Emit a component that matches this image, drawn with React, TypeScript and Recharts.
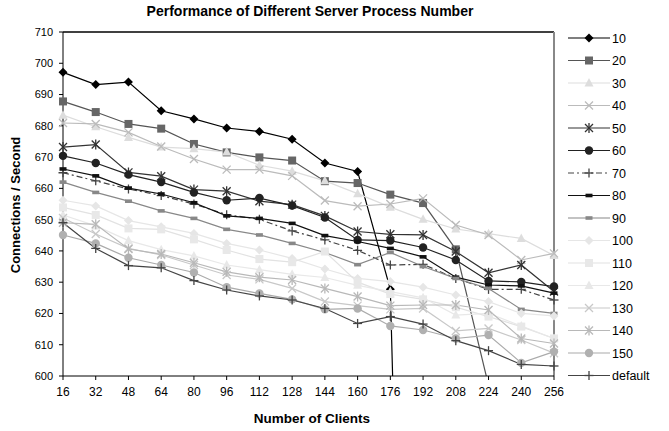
import React from "react";
import { LineChart, Line, XAxis, YAxis, ReferenceLine, Legend } from "recharts";

const clients = [16, 32, 48, 64, 80, 96, 112, 128, 144, 160, 176, 192, 208, 224, 240, 256];
const yTicks = [600, 610, 620, 630, 640, 650, 660, 670, 680, 690, 700, 710];

const s10 = [697.1, 693.2, 694.0, 684.8, 682.2, 679.3, 678.2, 675.7, 668.1, 665.4, 627.7, 230, null, null, null, null];
const s20 = [687.8, 684.4, 680.6, 679.1, 674.2, 671.5, 669.9, 668.9, 662.3, 661.7, 658.0, 655.3, 640.5, 597, null, null];
const s30 = [683.4, 679.7, 676.3, 673.2, 672.7, 671.6, 667.4, 665.5, 662.4, 658.3, 654.0, 650.1, 647.0, 645.5, 644.0, 638.5];
const s40 = [680.9, 680.6, 677.9, 673.4, 669.4, 666.0, 666.0, 664.0, 656.1, 654.3, 655.0, 656.8, 648.3, 645.1, 637.1, 639.2];
const s50 = [673.2, 674.0, 665.1, 663.9, 659.6, 659.1, 655.9, 654.8, 651.2, 646.2, 645.3, 645.1, 639.8, 633.0, 635.5, 627.0];
const s60 = [670.4, 668.1, 664.4, 662.0, 658.7, 656.2, 656.9, 654.5, 650.7, 643.5, 643.3, 641.1, 637.1, 630.4, 630.1, 628.6];
const s70 = [665.0, 662.4, 659.8, 657.7, 655.0, 651.6, 650.1, 646.4, 643.5, 640.2, 635.5, 635.7, 631.2, 627.7, 627.7, 624.3];
const s80 = [666.2, 664.0, 660.1, 658.2, 655.4, 651.2, 650.4, 648.8, 644.9, 643.0, 640.8, 638.1, 631.6, 629.1, 628.8, 626.5];
const s90 = [662.0, 658.7, 655.9, 652.8, 650.4, 646.9, 645.1, 642.4, 639.5, 635.6, 639.5, 635.0, 631.2, 628.0, 621.3, 620.0];
const s100 = [656.2, 654.4, 649.7, 647.7, 645.6, 642.4, 640.3, 637.6, 634.2, 631.2, 630.2, 628.4, 625.9, 623.8, 620.0, 619.2];
const s110 = [653.9, 651.5, 647.2, 646.9, 643.7, 640.3, 637.4, 636.4, 639.8, 630.0, 626.2, 624.5, 622.0, 619.0, 615.8, 612.0];
const s120 = [651.5, 648.0, 643.3, 640.4, 638.4, 635.5, 634.0, 632.5, 631.5, 629.0, 627.0, 625.0, 619.5, 620.0, 616.0, 612.0];
const s130 = [650.5, 645.4, 640.8, 638.7, 635.5, 632.3, 630.9, 628.0, 623.8, 622.5, 621.3, 621.6, 614.4, 615.2, 611.5, 607.3];
const s140 = [649.0, 648.5, 640.6, 639.0, 636.2, 633.3, 631.6, 630.7, 628.0, 625.4, 622.5, 622.7, 622.7, 621.1, 612.0, 610.4];
const s150 = [645.1, 642.4, 637.8, 635.5, 633.1, 628.4, 626.4, 624.5, 621.3, 621.6, 616.0, 614.7, 612.0, 613.1, 604.2, 607.8];
const sDefault = [649.0, 640.8, 635.3, 634.6, 630.5, 627.5, 625.6, 624.3, 621.6, 616.8, 619.0, 616.6, 611.3, 608.1, 603.7, 603.2];

const series = [
  { name: "10", values: s10, stroke: "#000", fill: "#000", shape: "diamond" },
  { name: "20", values: s20, stroke: "#555", fill: "#666", shape: "square" },
  { name: "30", values: s30, stroke: "#ddd", fill: "#ddd", shape: "triangle" },
  { name: "40", values: s40, stroke: "#bbb", fill: "#bbb", shape: "x" },
  { name: "50", values: s50, stroke: "#333", fill: "#333", shape: "star" },
  { name: "60", values: s60, stroke: "#222", fill: "#222", shape: "circle" },
  { name: "70", values: s70, stroke: "#444", fill: "#444", shape: "plus", dash: "6 3 2 3" },
  { name: "80", values: s80, stroke: "#111", fill: "#111", shape: "dash" },
  { name: "90", values: s90, stroke: "#888", fill: "#888", shape: "dash" },
  { name: "100", values: s100, stroke: "#e6e6e6", fill: "#e6e6e6", shape: "diamond" },
  { name: "110", values: s110, stroke: "#e2e2e2", fill: "#e8e8e8", shape: "square" },
  { name: "120", values: s120, stroke: "#e8e8e8", fill: "#e8e8e8", shape: "triangle" },
  { name: "130", values: s130, stroke: "#c8c8c8", fill: "#c8c8c8", shape: "x" },
  { name: "140", values: s140, stroke: "#b8b8b8", fill: "#b8b8b8", shape: "star" },
  { name: "150", values: s150, stroke: "#aaa", fill: "#b0b0b0", shape: "circle" },
  { name: "default", values: sDefault, stroke: "#444", fill: "#444", shape: "plus" },
];

const data = clients.map((c, i) => {
  const row: any = { clients: c };
  series.forEach((s) => {
    row["s" + s.name] = s.values[i];
  });
  return row;
});

const FONT = "'Liberation Sans', Arial, sans-serif";

function Marker({ shape, cx, cy, color }: any) {
  if (cx == null || cy == null) return null;
  switch (shape) {
    case "diamond":
      return <polygon points={`${cx},${cy - 4.5} ${cx + 4.5},${cy} ${cx},${cy + 4.5} ${cx - 4.5},${cy}`} fill={color} />;
    case "square":
      return <rect x={cx - 4} y={cy - 4} width={8} height={8} fill={color} />;
    case "triangle":
      return <polygon points={`${cx},${cy - 5} ${cx + 4.5},${cy + 3.5} ${cx - 4.5},${cy + 3.5}`} fill={color} />;
    case "circle":
      return <circle cx={cx} cy={cy} r={4.2} fill={color} />;
    case "dash":
      return <rect x={cx - 3.5} y={cy - 1.8} width={7} height={3.6} fill={color} />;
    case "x":
      return (
        <g stroke={color} strokeWidth={1.3}>
          <line x1={cx - 4} y1={cy - 4} x2={cx + 4} y2={cy + 4} />
          <line x1={cx - 4} y1={cy + 4} x2={cx + 4} y2={cy - 4} />
        </g>
      );
    case "star":
      return (
        <g stroke={color} strokeWidth={1.3}>
          <line x1={cx - 4} y1={cy - 4} x2={cx + 4} y2={cy + 4} />
          <line x1={cx - 4} y1={cy + 4} x2={cx + 4} y2={cy - 4} />
          <line x1={cx} y1={cy - 5} x2={cx} y2={cy + 5} />
        </g>
      );
    case "plus":
      return (
        <g stroke={color} strokeWidth={1.3}>
          <line x1={cx - 4.5} y1={cy} x2={cx + 4.5} y2={cy} />
          <line x1={cx} y1={cy - 4.5} x2={cx} y2={cy + 4.5} />
        </g>
      );
    default:
      return null;
  }
}

function LegendBox() {
  return (
    <svg width={105} height={370} style={{ display: "block" }}>
      {series.map((s, i) => {
        const y = 12 + i * 22.5;
        return (
          <g key={s.name}>
            <line x1={2} y1={y} x2={44} y2={y} stroke={s.stroke} strokeWidth={1.2} strokeDasharray={s.dash} />
            <Marker shape={s.shape} cx={23} cy={y} color={s.fill} />
            <text x={46} y={y + 4.5} fontSize={12.5} fontFamily={FONT} fill="#000">
              {s.name}
            </text>
          </g>
        );
      })}
    </svg>
  );
}

function YTitle() {
  return (
    <text x={20} y={205} transform="rotate(-90 20 205)" textAnchor="middle" fontSize={13} fontWeight="bold" fontFamily={FONT} fill="#000">
      Connections / Second
    </text>
  );
}

function XTitle() {
  return (
    <text x={312} y={423} textAnchor="middle" fontSize={13.5} fontWeight="bold" fontFamily={FONT} fill="#000">
      Number of Clients
    </text>
  );
}

export default function App() {
  return (
    <div style={{ position: "absolute", left: 0, top: 0, width: 669, height: 431, background: "#fff", fontFamily: FONT }}>
      <div style={{ position: "absolute", left: 0, top: 3, width: 620, textAlign: "center", fontSize: 14, fontWeight: "bold", color: "#000" }}>
        Performance of Different Server Process Number
      </div>
      <LineChart width={669} height={431} data={data} margin={{ top: 32, right: 115, bottom: 0, left: 0 }}>
        <XAxis
          type="number"
          dataKey="clients"
          domain={[16, 256]}
          ticks={clients}
          interval={0}
          height={55}
          tickSize={4}
          tickMargin={7}
          stroke="#000"
          tick={{ fill: "#000", fontSize: 12, fontFamily: FONT }}
          label={<XTitle />}
        />
        <YAxis
          type="number"
          domain={[600, 710]}
          ticks={yTicks}
          interval={0}
          allowDataOverflow
          width={63}
          tickSize={4}
          tickMargin={6}
          stroke="#000"
          tick={{ fill: "#000", fontSize: 11, fontFamily: FONT }}
          label={<YTitle />}
        />
        <ReferenceLine y={710} stroke="#000" strokeWidth={1.3} />
        <ReferenceLine x={256} stroke="#888" strokeWidth={2} />
        {series.map((s) => (
          <Line
            key={s.name}
            type="linear"
            dataKey={"s" + s.name}
            name={s.name}
            stroke={s.stroke}
            strokeWidth={1.2}
            strokeDasharray={s.dash}
            isAnimationActive={false}
            connectNulls={false}
            dot={(p: any) => <Marker key={p.key ?? `${s.name}-${p.index}`} shape={s.shape} cx={p.cx} cy={p.cy} color={s.fill} />}
            activeDot={false}
          />
        ))}
        <Legend
          layout="vertical"
          align="center"
          verticalAlign="middle"
          wrapperStyle={{ left: 566, top: 26, width: 105 }}
          content={() => <LegendBox />}
        />
      </LineChart>
    </div>
  );
}
